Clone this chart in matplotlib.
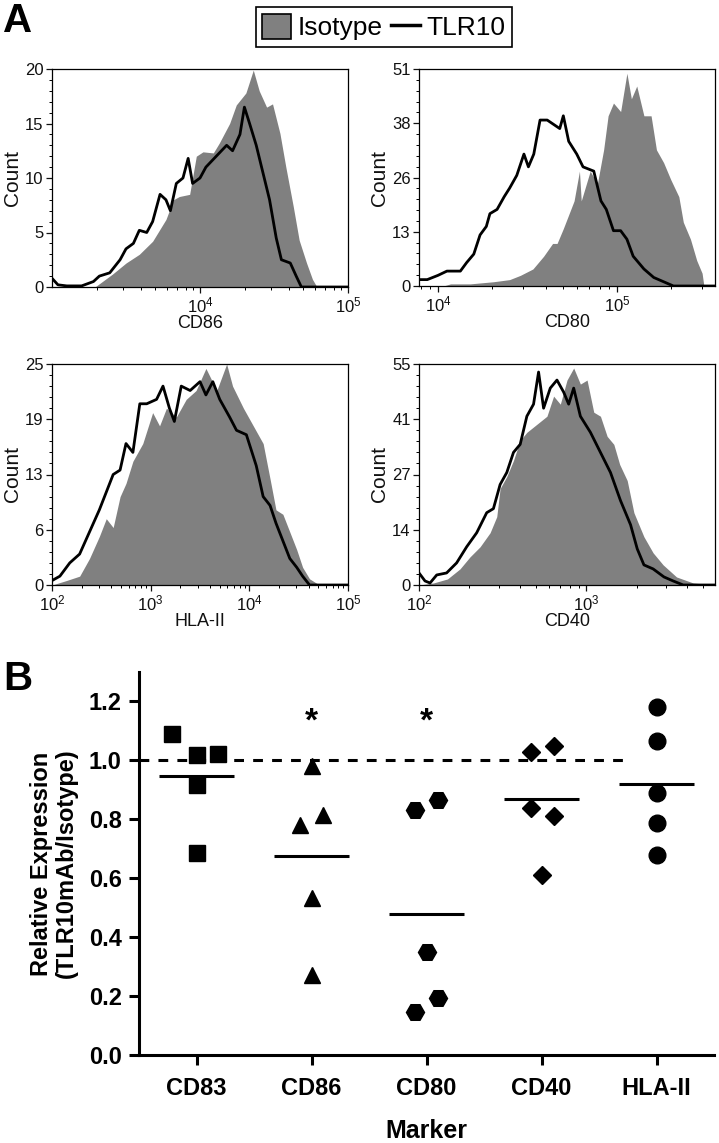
import matplotlib
matplotlib.use("Agg")
import matplotlib.pyplot as plt
from matplotlib.lines import Line2D
from matplotlib.patches import Patch
from matplotlib.ticker import FixedLocator, LogLocator, NullFormatter, AutoMinorLocator, FormatStrFormatter
import numpy as np

plt.rcParams["font.family"] = ["Liberation Sans", "DejaVu Sans"]
plt.rcParams["mathtext.fontset"] = "custom"
plt.rcParams["mathtext.rm"] = "Liberation Sans"
plt.rcParams["mathtext.it"] = "Liberation Sans:italic"
plt.rcParams["mathtext.bf"] = "Liberation Sans:bold"

# ---- Panel A data: log10 fluorescence intensity and event counts ----
cd86_iso_log = [3.00, 3.29, 3.32, 3.41, 3.50, 3.59, 3.68, 3.77, 3.82, 3.86, 3.93, 3.975,
                4.02, 4.09, 4.13, 4.20, 4.245, 4.31, 4.36, 4.40, 4.45, 4.49, 4.54, 4.58,
                4.63, 4.67, 4.72, 4.76, 4.79, 5.00]
cd86_iso_cnt = [0, 0, 0.3, 1.2, 2.2, 3.0, 4.2, 6.2, 8.0, 8.3, 8.5, 12.0,
                12.4, 12.3, 13.2, 15.0, 16.7, 17.8, 19.9, 18.0, 16.5, 16.8, 14.1, 11.0,
                7.4, 4.3, 2.2, 0.7, 0, 0]
cd86_tlr_log = [3.00, 3.04, 3.10, 3.20, 3.28, 3.32, 3.39, 3.46, 3.50, 3.55, 3.59, 3.64,
                3.68, 3.73, 3.77, 3.80, 3.84, 3.885, 3.92, 3.95, 4.00, 4.04, 4.11, 4.18,
                4.22, 4.27, 4.30, 4.335, 4.38, 4.425, 4.47, 4.515, 4.55, 4.61, 4.65, 4.685, 5.00]
cd86_tlr_cnt = [0.8, 0.2, 0.1, 0.1, 0.5, 1.0, 1.3, 2.5, 3.5, 4.0, 5.2, 5.0,
                6.0, 8.5, 8.0, 7.0, 9.5, 10.0, 11.8, 9.5, 10.0, 11.0, 12.0, 13.0,
                12.5, 14.0, 16.5, 15.0, 13.0, 10.5, 8.0, 4.5, 2.5, 2.2, 1.0, 0, 0]

cd80_iso_log = [3.90, 4.03, 4.07, 4.18, 4.31, 4.40, 4.46, 4.53, 4.59, 4.64, 4.665, 4.70,
                4.76, 4.79, 4.80, 4.85, 4.89, 4.925, 4.95, 4.98, 5.02, 5.055, 5.08, 5.11,
                5.15, 5.19, 5.22, 5.26, 5.30, 5.345, 5.37, 5.41, 5.445, 5.475, 5.485, 5.55]
cd80_iso_cnt = [0, 0, 0.5, 0.5, 1.0, 1.5, 2.5, 4.0, 7.0, 10.0, 10.0, 13.5,
                20.0, 27.0, 20.0, 27.0, 24.0, 32.0, 40.0, 43.0, 41.0, 50.0, 44.0, 47.0,
                40.0, 40.0, 32.0, 29.0, 25.0, 21.0, 15.0, 11.0, 6.0, 3.0, 0, 0]
cd80_tlr_log = [3.895, 3.94, 4.00, 4.05, 4.125, 4.16, 4.20, 4.235, 4.27, 4.29, 4.33, 4.37,
                4.40, 4.44, 4.48, 4.505, 4.535, 4.57, 4.61, 4.645, 4.68, 4.70, 4.73, 4.775,
                4.81, 4.87, 4.91, 4.94, 4.98, 5.02, 5.055, 5.09, 5.15, 5.205, 5.26, 5.315, 5.55]
cd80_tlr_cnt = [1.5, 1.5, 2.5, 3.5, 3.5, 5.5, 7.5, 12.0, 14.0, 17.0, 18.0, 21.0,
                23.0, 26.0, 31.0, 28.0, 31.0, 39.0, 39.0, 38.0, 37.0, 40.0, 34.0, 31.0,
                28.0, 27.0, 20.0, 18.0, 13.0, 13.0, 11.0, 7.0, 4.0, 2.0, 1.0, 0, 0]

hla_iso_log = [2.00, 2.145, 2.28, 2.38, 2.48, 2.55, 2.62, 2.69, 2.75, 2.82, 2.92, 3.02,
               3.09, 3.16, 3.26, 3.36, 3.46, 3.56, 3.67, 3.77, 3.83, 3.94, 4.04, 4.14,
               4.21, 4.27, 4.34, 4.41, 4.48, 4.54, 4.61, 4.71, 5.00]
hla_iso_cnt = [0, 0.5, 1.0, 3.0, 5.5, 7.5, 6.5, 10.0, 11.5, 14.0, 16.0, 19.5,
               18.0, 20.0, 19.0, 21.0, 22.0, 24.5, 22.0, 25.0, 22.5, 20.0, 18.0, 16.0,
               12.0, 8.5, 8.0, 6.0, 4.0, 2.0, 0.7, 0, 0]
hla_tlr_log = [2.00, 2.08, 2.18, 2.28, 2.38, 2.48, 2.55, 2.62, 2.69, 2.75, 2.82, 2.89,
               2.96, 3.06, 3.125, 3.19, 3.24, 3.31, 3.40, 3.50, 3.56, 3.63, 3.70, 3.80,
               3.87, 3.97, 4.07, 4.14, 4.21, 4.27, 4.34, 4.41, 4.48, 4.54, 4.61, 5.00]
hla_tlr_cnt = [0.5, 1.0, 2.5, 3.5, 6.0, 8.5, 10.5, 12.5, 13.0, 16.0, 15.0, 20.5,
               20.5, 21.0, 22.5, 20.0, 18.5, 22.5, 22.0, 23.0, 21.5, 23.0, 21.0, 19.0,
               17.5, 17.0, 13.5, 10.0, 9.0, 7.0, 5.0, 3.0, 2.0, 1.0, 0, 0]

cd40_iso_log = [2.00, 2.086, 2.17, 2.245, 2.305, 2.365, 2.425, 2.465, 2.485, 2.525, 2.565, 2.605,
                2.645, 2.705, 2.765, 2.805, 2.845, 2.885, 2.925, 2.965, 3.005, 3.045, 3.085, 3.125,
                3.165, 3.20, 3.245, 3.285, 3.345, 3.40, 3.46, 3.54, 3.64, 3.77]
cd40_iso_cnt = [0, 0.5, 1.5, 4.0, 7.0, 9.5, 13.0, 17.0, 24.0, 27.0, 31.0, 36.0,
                38.0, 40.0, 42.0, 47.0, 45.0, 51.0, 54.0, 50.0, 51.0, 43.0, 42.0, 37.0,
                35.0, 30.0, 26.0, 18.0, 12.0, 8.0, 5.0, 2.0, 0.5, 0]
cd40_tlr_log = [2.00, 2.036, 2.066, 2.106, 2.165, 2.225, 2.285, 2.345, 2.405, 2.445, 2.485, 2.525,
                2.565, 2.605, 2.645, 2.685, 2.715, 2.745, 2.785, 2.825, 2.865, 2.895, 2.925, 2.965,
                3.025, 3.085, 3.145, 3.205, 3.265, 3.305, 3.345, 3.40, 3.465, 3.52, 3.58, 3.77]
cd40_tlr_cnt = [3.0, 1.0, 0.5, 2.5, 3.0, 5.5, 9.5, 13.0, 18.0, 19.0, 25.0, 28.0,
                33.0, 35.0, 42.0, 45.0, 53.0, 44.0, 49.0, 51.0, 48.0, 45.0, 49.0, 42.0,
                38.0, 33.0, 28.0, 21.0, 15.0, 9.0, 5.0, 4.0, 2.0, 1.0, 0, 0]

# count-axis tick labels as printed by the cytometer software
cd86_ylabels = ["0", "5", "10", "15", "20"]
cd80_ylabels = ["0", "13", "26", "38", "51"]
hla_ylabels = ["0", "6", "13", "19", "25"]
cd40_ylabels = ["0", "14", "27", "41", "55"]

# ---- Panel B data: relative expression (TLR10 mAb / isotype) ----
markers_b = ["CD83", "CD86", "CD80", "CD40", "HLA-II"]
cd83_rel = [1.09, 1.017, 1.02, 0.915, 0.687]
cd86_rel = [0.98, 0.78, 0.816, 0.534, 0.272]
cd80_rel = [0.83, 0.867, 0.35, 0.194, 0.146]
cd40_rel = [1.03, 1.05, 0.837, 0.81, 0.61]
hla_rel = [1.18, 1.065, 0.89, 0.786, 0.68]
significant = ["CD86", "CD80"]

GRAY = "#808080"
W, H = 719, 1143


def px_box(left, top, right, bottom):
    return [left / W, 1 - bottom / H, (right - left) / W, (bottom - top) / H]


def hist_panel(fig, box, iso_log, iso_cnt, tlr_log, tlr_cnt, xlim, xticks, ymax, ylabels, xlabel):
    ax = fig.add_axes(px_box(*box))
    ax.fill_between(10 ** np.array(iso_log), iso_cnt, color=GRAY, lw=0, zorder=1)
    ax.plot(10 ** np.array(tlr_log), tlr_cnt, color="black", lw=2.0, zorder=2)
    ax.set_xscale("log")
    ax.set_xlim(*xlim)
    ax.set_ylim(0, ymax)
    ax.xaxis.set_major_locator(FixedLocator(xticks))
    ax.set_xticklabels(["$10^{%d}$" % round(np.log10(t)) for t in xticks])
    ax.xaxis.set_minor_locator(LogLocator(base=10, subs=np.arange(2, 10)))
    ax.xaxis.set_minor_formatter(NullFormatter())
    ax.set_yticks(np.linspace(0, ymax, len(ylabels)))
    ax.set_yticklabels(ylabels)
    ax.yaxis.set_minor_locator(AutoMinorLocator(5))
    for s in ax.spines.values():
        s.set_linewidth(0.9)
    ax.tick_params(which="major", length=4, width=0.9, labelsize=12, pad=2, colors="#111111")
    ax.tick_params(which="minor", length=2, width=0.7)
    ax.set_xlabel(xlabel, fontsize=13, labelpad=0, color="#111111")
    ax.set_ylabel("Count", fontsize=15, labelpad=2, color="#111111")
    return ax


fig = plt.figure(figsize=(W / 100, H / 100), dpi=100)

hist_panel(fig, (52, 69, 348, 287), cd86_iso_log, cd86_iso_cnt, cd86_tlr_log, cd86_tlr_cnt,
           (1e3, 1e5), [1e4, 1e5], 20, cd86_ylabels, "CD86")
hist_panel(fig, (419, 69, 715, 286), cd80_iso_log, cd80_iso_cnt, cd80_tlr_log, cd80_tlr_cnt,
           (10 ** 3.894, 10 ** 5.547), [1e4, 1e5], 51, cd80_ylabels, "CD80")
hist_panel(fig, (52, 364, 348, 585), hla_iso_log, hla_iso_cnt, hla_tlr_log, hla_tlr_cnt,
           (1e2, 1e5), [1e2, 1e3, 1e4, 1e5], 25, hla_ylabels, "HLA-II")
hist_panel(fig, (419, 364, 715, 585), cd40_iso_log, cd40_iso_cnt, cd40_tlr_log, cd40_tlr_cnt,
           (1e2, 10 ** 3.77), [1e2, 1e3], 55, cd40_ylabels, "CD40")

handles = [Patch(facecolor=GRAY, edgecolor="black", lw=1.2),
           Line2D([0], [0], color="black", lw=2.5)]
leg = fig.legend(handles, ["Isotype", "TLR10"], loc="center",
                 bbox_to_anchor=(384 / W, 1 - 27 / H), ncol=2, fontsize=19,
                 handlelength=1.1, handleheight=1.1, handletextpad=0.25,
                 columnspacing=0.3, borderpad=0.25, borderaxespad=0,
                 fancybox=False, edgecolor="black", framealpha=1)
leg.get_frame().set_linewidth(1.2)

fig.text(3 / W, 1 - 2 / H, "A", fontsize=29, fontweight="bold", va="top", ha="left")
fig.text(3 / W, 1 - 660 / H, "B", fontsize=29, fontweight="bold", va="top", ha="left")

# ---- Panel B ----
axb = fig.add_axes(px_box(139, 672, 714, 1055))
groups = [cd83_rel, cd86_rel, cd80_rel, cd40_rel, hla_rel]
jitter = [[-0.21, 0, 0.19, 0, 0],
          [0, -0.1, 0.1, 0, 0],
          [-0.1, 0.1, 0, 0.1, -0.1],
          [-0.09, 0.11, -0.09, 0.11, 0],
          [0, 0, 0, 0, 0]]
shapes = ["s", "^", "H", "D", "o"]
sizes = [11, 12, 13, 9.5, 12]
for i, (vals, jit, mk, ms) in enumerate(zip(groups, jitter, shapes, sizes)):
    axb.plot(i + np.array(jit), vals, ls="none", marker=mk, ms=ms, color="black")
    axb.plot([i - 0.33, i + 0.33], [np.mean(vals)] * 2, color="black", lw=2.2,
             solid_capstyle="butt")
    if markers_b[i] in significant:
        axb.text(i, 1.13, "*", fontsize=24, fontweight="bold", ha="center", va="center")

axb.plot([-0.5, 3.77], [1.0, 1.0], color="black", lw=2.2, ls=(0, (3.2, 3.0)))
axb.set_xlim(-0.5, 4.5)
axb.set_ylim(0, 1.3)
axb.set_yticks(np.arange(0, 1.21, 0.2))
axb.yaxis.set_major_formatter(FormatStrFormatter("%.1f"))
axb.set_xticks(range(len(markers_b)))
axb.set_xticklabels(markers_b)
for side in ("top", "right"):
    axb.spines[side].set_visible(False)
for side in ("left", "bottom"):
    axb.spines[side].set_linewidth(2.2)
axb.tick_params(length=7.5, width=2.2, labelsize=17, pad=5)
axb.tick_params(axis="x", pad=8)
for lab in axb.get_xticklabels() + axb.get_yticklabels():
    lab.set_fontweight("bold")
axb.set_xlabel("Marker", fontsize=18, fontweight="bold", labelpad=14)
axb.set_ylabel("Relative Expression\n(TLR10mAb/Isotype)", fontsize=17,
               fontweight="bold", labelpad=8, linespacing=1.1)

fig.savefig("out.png", dpi=100)
